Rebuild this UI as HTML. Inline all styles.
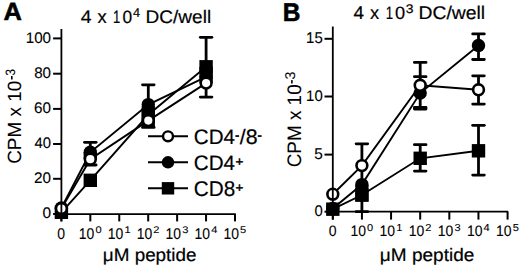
<!DOCTYPE html>
<html><head><meta charset="utf-8"><title>Figure</title>
<style>html,body{margin:0;padding:0;background:#fff;width:520px;height:267px;overflow:hidden}svg{display:block}text{font-family:"Liberation Sans", sans-serif;text-rendering:geometricPrecision;font-kerning:none;fill:#000;stroke-linejoin:round}</style>
</head><body>
<svg width="520" height="267" viewBox="0 0 520 267">
<rect width="520" height="267" fill="#fff"/>
<path d="M61.4,212.3 L90.3,180.3 L148.3,114.8 L206.1,66.8" fill="none" stroke="#000" stroke-width="1.9"/>
<path d="M61.4,208 L90.3,152.3 L148.3,104.6 L206.1,76.8" fill="none" stroke="#000" stroke-width="1.9"/>
<path d="M61.4,208.6 L90.3,159.2 L148.3,120.6 L206.1,83.1" fill="none" stroke="#000" stroke-width="1.9"/>
<line x1="90.3" y1="142.3" x2="90.3" y2="165" stroke="#000" stroke-width="2.8"/>
<line x1="84.5" y1="142.3" x2="96.1" y2="142.3" stroke="#000" stroke-width="2.8" stroke-linecap="round"/>
<line x1="84.5" y1="165" x2="96.1" y2="165" stroke="#000" stroke-width="2.8" stroke-linecap="round"/>
<line x1="148.3" y1="84.8" x2="148.3" y2="127.4" stroke="#000" stroke-width="2.8"/>
<line x1="142.5" y1="84.8" x2="154.1" y2="84.8" stroke="#000" stroke-width="2.8" stroke-linecap="round"/>
<line x1="142.5" y1="127.4" x2="154.1" y2="127.4" stroke="#000" stroke-width="2.8" stroke-linecap="round"/>
<line x1="206.1" y1="37.3" x2="206.1" y2="97.1" stroke="#000" stroke-width="2.8"/>
<line x1="200.3" y1="37.3" x2="211.9" y2="37.3" stroke="#000" stroke-width="2.8" stroke-linecap="round"/>
<line x1="200.3" y1="97.1" x2="211.9" y2="97.1" stroke="#000" stroke-width="2.8" stroke-linecap="round"/>
<rect x="141.7" y="106" width="13.2" height="21.6" fill="#000"/>
<rect x="199.4" y="66.8" width="13.4" height="16.3" fill="#000"/>
<rect x="83.6" y="152.3" width="13.4" height="6.9" fill="#000"/>
<rect x="54.7" y="205.6" width="13.4" height="13.4" fill="#000"/>
<rect x="83.6" y="173.6" width="13.4" height="13.4" fill="#000"/>
<rect x="141.6" y="108.1" width="13.4" height="13.4" fill="#000"/>
<rect x="199.4" y="60.1" width="13.4" height="13.4" fill="#000"/>
<circle cx="61.4" cy="208" r="6.7" fill="#000"/>
<circle cx="90.3" cy="152.3" r="6.7" fill="#000"/>
<circle cx="148.3" cy="104.6" r="6.7" fill="#000"/>
<circle cx="206.1" cy="76.8" r="6.7" fill="#000"/>
<circle cx="61.4" cy="208.6" r="5.4" fill="#fff" stroke="#000" stroke-width="2.6"/>
<circle cx="90.3" cy="159.2" r="5.4" fill="#fff" stroke="#000" stroke-width="2.6"/>
<circle cx="148.3" cy="120.6" r="5.4" fill="#fff" stroke="#000" stroke-width="2.6"/>
<circle cx="206.1" cy="83.1" r="5.4" fill="#fff" stroke="#000" stroke-width="2.6"/>
<line x1="61.4" y1="29" x2="61.4" y2="221.4" stroke="#000" stroke-width="1.8"/>
<line x1="61.4" y1="214.1" x2="235.8" y2="214.1" stroke="#000" stroke-width="1.8"/>
<line x1="53.1" y1="38.4" x2="61.4" y2="38.4" stroke="#000" stroke-width="2.0"/>
<line x1="53.1" y1="73.7" x2="61.4" y2="73.7" stroke="#000" stroke-width="2.0"/>
<line x1="53.1" y1="108.9" x2="61.4" y2="108.9" stroke="#000" stroke-width="2.0"/>
<line x1="53.1" y1="144" x2="61.4" y2="144" stroke="#000" stroke-width="2.0"/>
<line x1="53.1" y1="178.8" x2="61.4" y2="178.8" stroke="#000" stroke-width="2.0"/>
<line x1="53.1" y1="214" x2="61.4" y2="214" stroke="#000" stroke-width="2.0"/>
<line x1="61.4" y1="214.1" x2="61.4" y2="221.4" stroke="#000" stroke-width="2.0"/>
<line x1="90.33" y1="214.1" x2="90.33" y2="221.4" stroke="#000" stroke-width="2.0"/>
<line x1="119.26" y1="214.1" x2="119.26" y2="221.4" stroke="#000" stroke-width="2.0"/>
<line x1="148.19" y1="214.1" x2="148.19" y2="221.4" stroke="#000" stroke-width="2.0"/>
<line x1="177.12" y1="214.1" x2="177.12" y2="221.4" stroke="#000" stroke-width="2.0"/>
<line x1="206.05" y1="214.1" x2="206.05" y2="221.4" stroke="#000" stroke-width="2.0"/>
<line x1="234.98" y1="214.1" x2="234.98" y2="221.4" stroke="#000" stroke-width="2.0"/>
<text transform="translate(25.69,42.8) scale(0.9961,1)" font-size="15.254" stroke="#000" stroke-width="0.1">100</text>
<text transform="translate(34.19,78.1) scale(0.9931,1)" font-size="15.254" stroke="#000" stroke-width="0.1">80</text>
<text transform="translate(34.08,113.3) scale(1.0002,1)" font-size="15.254" stroke="#000" stroke-width="0.1">60</text>
<text transform="translate(34.51,148.4) scale(0.9737,1)" font-size="15.254" stroke="#000" stroke-width="0.1">40</text>
<text transform="translate(34.08,183.2) scale(0.9997,1)" font-size="15.254" stroke="#000" stroke-width="0.1">20</text>
<text transform="translate(42.45,218.4) scale(1.0148,1)" font-size="15.254" stroke="#000" stroke-width="0.1">0</text>
<text transform="translate(57.3,238.7) scale(0.9021,1)" font-size="15.537" stroke="#000" stroke-width="0.1">0</text>
<text transform="translate(78.82,238.7) scale(0.8973,1)" font-size="15.537" stroke="#000" stroke-width="0.1">10</text>
<text transform="translate(95.45,233.15) scale(1.1377,1)" font-size="9.746" stroke="#000" stroke-width="0.1">0</text>
<text transform="translate(107.75,238.7) scale(0.8973,1)" font-size="15.537" stroke="#000" stroke-width="0.1">10</text>
<text transform="translate(124.38,233.15) scale(1.1377,1)" font-size="9.746" stroke="#000" stroke-width="0.1">1</text>
<text transform="translate(136.68,238.7) scale(0.8973,1)" font-size="15.537" stroke="#000" stroke-width="0.1">10</text>
<text transform="translate(153.31,233.15) scale(1.1377,1)" font-size="9.746" stroke="#000" stroke-width="0.1">2</text>
<text transform="translate(165.61,238.7) scale(0.8973,1)" font-size="15.537" stroke="#000" stroke-width="0.1">10</text>
<text transform="translate(182.24,233.15) scale(1.1377,1)" font-size="9.746" stroke="#000" stroke-width="0.1">3</text>
<text transform="translate(194.54,238.7) scale(0.8973,1)" font-size="15.537" stroke="#000" stroke-width="0.1">10</text>
<text transform="translate(211.17,233.15) scale(1.1377,1)" font-size="9.746" stroke="#000" stroke-width="0.1">4</text>
<text transform="translate(223.47,238.7) scale(0.8973,1)" font-size="15.537" stroke="#000" stroke-width="0.1">10</text>
<text transform="translate(240.1,233.15) scale(1.1377,1)" font-size="9.746" stroke="#000" stroke-width="0.1">5</text>
<path d="M332.8,209.2 L361.9,195 L420.2,158.3 L478.5,150.8" fill="none" stroke="#000" stroke-width="1.9"/>
<path d="M332.8,208.5 L361.9,184.6 L420.2,93.1 L478.5,45.5" fill="none" stroke="#000" stroke-width="1.9"/>
<path d="M332.8,194.2 L361.9,165.6 L420.2,85.3 L478.5,89.8" fill="none" stroke="#000" stroke-width="1.9"/>
<line x1="361.9" y1="143.8" x2="361.9" y2="211.7" stroke="#000" stroke-width="2.8"/>
<line x1="356.1" y1="143.8" x2="367.7" y2="143.8" stroke="#000" stroke-width="2.8" stroke-linecap="round"/>
<line x1="356.1" y1="211.7" x2="367.7" y2="211.7" stroke="#000" stroke-width="2.8" stroke-linecap="round"/>
<line x1="420.2" y1="62.4" x2="420.2" y2="109" stroke="#000" stroke-width="2.8"/>
<line x1="414.4" y1="62.4" x2="426" y2="62.4" stroke="#000" stroke-width="2.8" stroke-linecap="round"/>
<line x1="414.4" y1="109" x2="426" y2="109" stroke="#000" stroke-width="2.8" stroke-linecap="round"/>
<line x1="478.5" y1="33.9" x2="478.5" y2="59.5" stroke="#000" stroke-width="2.8"/>
<line x1="472.7" y1="33.9" x2="484.3" y2="33.9" stroke="#000" stroke-width="2.8" stroke-linecap="round"/>
<line x1="472.7" y1="59.5" x2="484.3" y2="59.5" stroke="#000" stroke-width="2.8" stroke-linecap="round"/>
<line x1="478.5" y1="75.8" x2="478.5" y2="104.1" stroke="#000" stroke-width="2.8"/>
<line x1="472.7" y1="75.8" x2="484.3" y2="75.8" stroke="#000" stroke-width="2.8" stroke-linecap="round"/>
<line x1="472.7" y1="104.1" x2="484.3" y2="104.1" stroke="#000" stroke-width="2.8" stroke-linecap="round"/>
<line x1="478.5" y1="125.3" x2="478.5" y2="175.1" stroke="#000" stroke-width="2.8"/>
<line x1="472.7" y1="125.3" x2="484.3" y2="125.3" stroke="#000" stroke-width="2.8" stroke-linecap="round"/>
<line x1="472.7" y1="175.1" x2="484.3" y2="175.1" stroke="#000" stroke-width="2.8" stroke-linecap="round"/>
<line x1="420.2" y1="144.7" x2="420.2" y2="171.1" stroke="#000" stroke-width="2.8"/>
<line x1="414.4" y1="144.7" x2="426" y2="144.7" stroke="#000" stroke-width="2.8" stroke-linecap="round"/>
<line x1="414.4" y1="171.1" x2="426" y2="171.1" stroke="#000" stroke-width="2.8" stroke-linecap="round"/>
<line x1="414.4" y1="76.7" x2="426" y2="76.7" stroke="#000" stroke-width="2.8" stroke-linecap="round"/>
<line x1="414.4" y1="107.4" x2="426" y2="107.4" stroke="#000" stroke-width="2.8" stroke-linecap="round"/>
<rect x="355.3" y="185" width="13.2" height="16.6" fill="#000"/>
<rect x="326.1" y="202.5" width="13.4" height="13.4" fill="#000"/>
<rect x="355.2" y="188.3" width="13.4" height="13.4" fill="#000"/>
<rect x="413.5" y="151.6" width="13.4" height="13.4" fill="#000"/>
<rect x="471.8" y="144.1" width="13.4" height="13.4" fill="#000"/>
<circle cx="332.8" cy="208.5" r="6.7" fill="#000"/>
<circle cx="361.9" cy="184.6" r="6.7" fill="#000"/>
<circle cx="420.2" cy="93.1" r="6.7" fill="#000"/>
<circle cx="478.5" cy="45.5" r="6.7" fill="#000"/>
<circle cx="332.8" cy="194.2" r="5.4" fill="#fff" stroke="#000" stroke-width="2.6"/>
<circle cx="361.9" cy="165.6" r="5.4" fill="#fff" stroke="#000" stroke-width="2.6"/>
<circle cx="420.2" cy="85.3" r="5.4" fill="#fff" stroke="#000" stroke-width="2.6"/>
<circle cx="478.5" cy="89.8" r="5.4" fill="#fff" stroke="#000" stroke-width="2.6"/>
<line x1="332.8" y1="26.5" x2="332.8" y2="219.6" stroke="#000" stroke-width="1.8"/>
<line x1="332.8" y1="211.7" x2="508.2" y2="211.7" stroke="#000" stroke-width="1.8"/>
<line x1="324.5" y1="38.8" x2="332.8" y2="38.8" stroke="#000" stroke-width="2.0"/>
<line x1="324.5" y1="96.5" x2="332.8" y2="96.5" stroke="#000" stroke-width="2.0"/>
<line x1="324.5" y1="154.6" x2="332.8" y2="154.6" stroke="#000" stroke-width="2.0"/>
<line x1="324.5" y1="211.7" x2="332.8" y2="211.7" stroke="#000" stroke-width="2.0"/>
<line x1="332.8" y1="211.7" x2="332.8" y2="219.6" stroke="#000" stroke-width="2.0"/>
<line x1="361.93" y1="211.7" x2="361.93" y2="219.6" stroke="#000" stroke-width="2.0"/>
<line x1="391.06" y1="211.7" x2="391.06" y2="219.6" stroke="#000" stroke-width="2.0"/>
<line x1="420.19" y1="211.7" x2="420.19" y2="219.6" stroke="#000" stroke-width="2.0"/>
<line x1="449.32" y1="211.7" x2="449.32" y2="219.6" stroke="#000" stroke-width="2.0"/>
<line x1="478.45" y1="211.7" x2="478.45" y2="219.6" stroke="#000" stroke-width="2.0"/>
<line x1="507.58" y1="211.7" x2="507.58" y2="219.6" stroke="#000" stroke-width="2.0"/>
<text transform="translate(306.11,43.2) scale(0.9683,1)" font-size="15.478" stroke="#000" stroke-width="0.1">15</text>
<text transform="translate(306.11,100.9) scale(0.9797,1)" font-size="15.254" stroke="#000" stroke-width="0.1">10</text>
<text transform="translate(314.23,159) scale(0.9947,1)" font-size="15.478" stroke="#000" stroke-width="0.1">5</text>
<text transform="translate(314.47,216.1) scale(0.9737,1)" font-size="15.254" stroke="#000" stroke-width="0.1">0</text>
<text transform="translate(328.7,235.6) scale(0.9274,1)" font-size="15.113" stroke="#000" stroke-width="0.1">0</text>
<text transform="translate(350.42,235.6) scale(0.9225,1)" font-size="15.113" stroke="#000" stroke-width="0.1">10</text>
<text transform="translate(367.05,230.65) scale(1.1056,1)" font-size="10.028" stroke="#000" stroke-width="0.1">0</text>
<text transform="translate(379.55,235.6) scale(0.9225,1)" font-size="15.113" stroke="#000" stroke-width="0.1">10</text>
<text transform="translate(396.18,230.65) scale(1.1056,1)" font-size="10.028" stroke="#000" stroke-width="0.1">1</text>
<text transform="translate(408.68,235.6) scale(0.9225,1)" font-size="15.113" stroke="#000" stroke-width="0.1">10</text>
<text transform="translate(425.31,230.65) scale(1.1056,1)" font-size="10.028" stroke="#000" stroke-width="0.1">2</text>
<text transform="translate(437.81,235.6) scale(0.9225,1)" font-size="15.113" stroke="#000" stroke-width="0.1">10</text>
<text transform="translate(454.44,230.65) scale(1.1056,1)" font-size="10.028" stroke="#000" stroke-width="0.1">3</text>
<text transform="translate(466.94,235.6) scale(0.9225,1)" font-size="15.113" stroke="#000" stroke-width="0.1">10</text>
<text transform="translate(483.57,230.65) scale(1.1056,1)" font-size="10.028" stroke="#000" stroke-width="0.1">4</text>
<text transform="translate(496.07,235.6) scale(0.9225,1)" font-size="15.113" stroke="#000" stroke-width="0.1">10</text>
<text transform="translate(512.7,230.65) scale(1.1056,1)" font-size="10.028" stroke="#000" stroke-width="0.1">5</text>
<line x1="148" y1="136.3" x2="188" y2="136.3" stroke="#000" stroke-width="1.9"/>
<circle cx="168" cy="136.3" r="4.95" fill="#fff" stroke="#000" stroke-width="2.4"/>
<line x1="148" y1="162.3" x2="188" y2="162.3" stroke="#000" stroke-width="1.9"/>
<circle cx="168" cy="162.3" r="6.25" fill="#000"/>
<line x1="148" y1="188.3" x2="188" y2="188.3" stroke="#000" stroke-width="1.9"/>
<rect x="161.8" y="182.1" width="12.4" height="12.4" fill="#000"/>
<text transform="translate(193.86,144.2) scale(0.9840,1)" font-size="20.904" stroke="#000" stroke-width="0.2">CD4</text>
<rect x="235.4" y="135.2" width="3.7" height="1.7" fill="#000"/>
<text transform="translate(239.8,144.19) scale(1.0158,1)" font-size="21.045" stroke="#000" stroke-width="0.2">/8</text>
<rect x="257.8" y="135.2" width="3.8" height="1.7" fill="#000"/>
<text transform="translate(193.86,170.2) scale(0.9840,1)" font-size="20.904" stroke="#000" stroke-width="0.2">CD4</text>
<text transform="translate(235.57,165.72) scale(1.0388,1)" font-size="12.979" stroke="#000" stroke-width="0.45">+</text>
<text transform="translate(193.85,196.19) scale(0.9716,1)" font-size="21.327" stroke="#000" stroke-width="0.2">CD8</text>
<text transform="translate(235.57,191.62) scale(1.0388,1)" font-size="12.979" stroke="#000" stroke-width="0.45">+</text>
<text transform="translate(3.47,19.7) scale(1.0255,1)" font-size="24.855" font-weight="bold" stroke="#000" stroke-width="0.6">A</text>
<text transform="translate(282.67,20.7) scale(0.9550,1)" font-size="25.582" font-weight="bold" stroke="#000" stroke-width="0.6">B</text>
<text transform="translate(80.65,22.8) scale(1.0619,1)" font-size="18.314" stroke="#000" stroke-width="0.2">4</text>
<text transform="translate(97.39,22.8) scale(1.0052,1)" font-size="18.314" stroke="#000" stroke-width="0.2">x</text>
<text transform="translate(112.91,22.7) scale(0.7206,1)" font-size="18.024" stroke="#000" stroke-width="0.2">1</text>
<text transform="translate(122.42,22.63) scale(0.9756,1)" font-size="17.796" stroke="#000" stroke-width="0.2">0</text>
<text transform="translate(133.01,16.7) scale(0.9930,1)" font-size="12.791" stroke="#000" stroke-width="0.2">4</text>
<text transform="translate(145.54,22.8) scale(1.0404,1)" font-size="18.314" stroke="#000" stroke-width="0.2">DC/well</text>
<text transform="translate(353.47,19.3) scale(1.0213,1)" font-size="18.460" stroke="#000" stroke-width="0.2">4</text>
<text transform="translate(369.89,19.3) scale(0.9973,1)" font-size="18.460" stroke="#000" stroke-width="0.2">x</text>
<text transform="translate(385.69,19.2) scale(0.7276,1)" font-size="18.169" stroke="#000" stroke-width="0.2">1</text>
<text transform="translate(394.99,19.12) scale(1.0146,1)" font-size="17.938" stroke="#000" stroke-width="0.2">0</text>
<text transform="translate(405.77,12.78) scale(1.1200,1)" font-size="12.429" stroke="#000" stroke-width="0.2">3</text>
<text transform="translate(418.51,19.3) scale(1.0486,1)" font-size="18.460" stroke="#000" stroke-width="0.2">DC/well</text>
<text transform="translate(102.83,260.66) scale(1.0466,1)" font-size="18.023" stroke="#000" stroke-width="0.2">μM peptide</text>
<text transform="translate(379.82,260.66) scale(1.0558,1)" font-size="18.023" stroke="#000" stroke-width="0.2">μM peptide</text>
<text transform="translate(20.69,163.84) rotate(-90) scale(0.9885,1)" font-size="19.138" stroke="#000" stroke-width="0.05">CPM x 10</text>
<text transform="translate(15.34,75.41) rotate(-90) scale(0.8434,1)" font-size="13.630" stroke="#000" stroke-width="0.05">3</text>
<rect x="11" y="76" width="1.6" height="3.5" fill="#000"/>
<text transform="translate(300.68,167.34) rotate(-90) scale(0.9670,1)" font-size="19.562" stroke="#000" stroke-width="0.05">CPM x 10</text>
<text transform="translate(294.94,79.62) rotate(-90) scale(1.0030,1)" font-size="14.195" stroke="#000" stroke-width="0.05">3</text>
<rect x="291.1" y="80.1" width="1.6" height="3.4" fill="#000"/>
</svg>
</body></html>
